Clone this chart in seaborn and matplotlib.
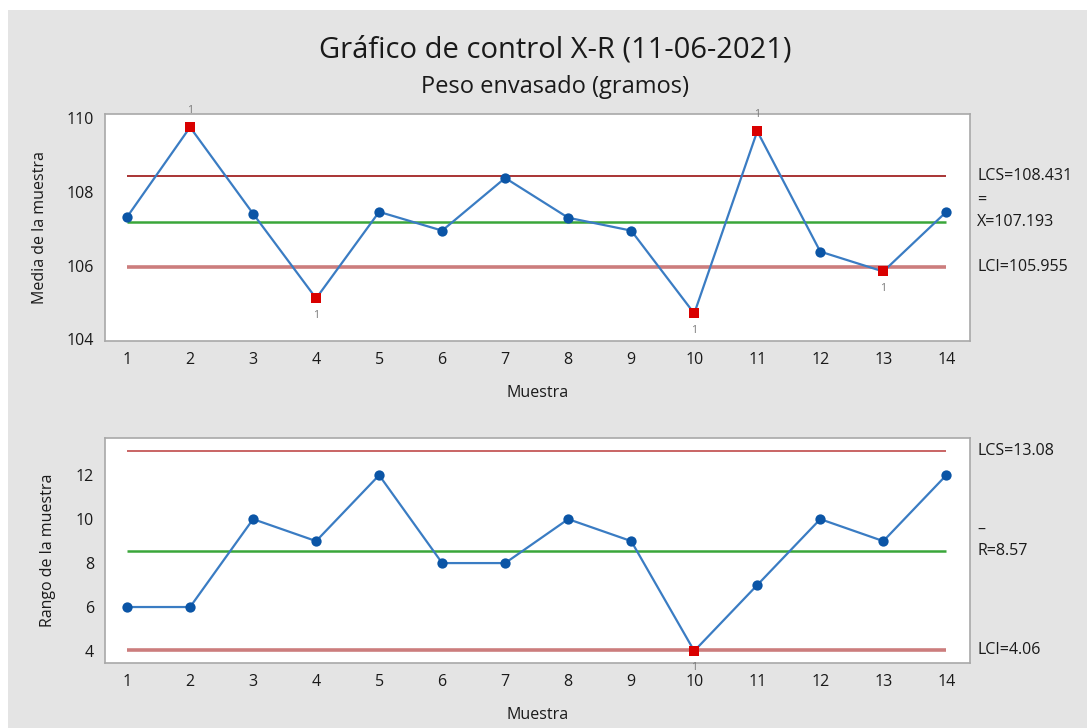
import matplotlib
matplotlib.use("Agg")
import matplotlib.pyplot as plt
import seaborn as sns
import pandas as pd
from matplotlib.patches import Rectangle
import matplotlib.transforms as mtransforms

# ---- data ----
muestra = [1, 2, 3, 4, 5, 6, 7, 8, 9, 10, 11, 12, 13, 14]
media = [107.32, 109.76, 107.41, 105.11, 107.46, 106.95, 108.38,
         107.30, 106.95, 104.70, 109.65, 106.38, 105.84, 107.46]
rango = [6, 6, 10, 9, 12, 8, 8, 10, 9, 4, 7, 10, 9, 12]

lcs_media = 108.431
centro_media = 107.193
lci_media = 105.955
lcs_rango = 13.08
centro_rango = 8.57
lci_rango = 4.06

yticks_media = [104, 106, 108, 110]
yticks_rango = [4, 6, 8, 10, 12]

titulo = "Gráfico de control X-R (11-06-2021)"
subtitulo = "Peso envasado (gramos)"

# ---- style ----
sns.set_style("white")
plt.rcParams['font.family'] = ['Open Sans', 'DejaVu Sans']

BLUE_LINE = "#3a7cc3"
BLUE_DOT = "#0b55a6"
RED_SQ = "#d90000"
GREEN = "#3aa63a"
UCL_TOP = "#a93434"
LCL_COL = "#cc7d7d"
UCL_BOT = "#c96464"
SPINE = "#a8a8a8"
TXT = "#1a1a1a"

fig = plt.figure(figsize=(10.87, 7.28), dpi=100)
fig.patch.set_facecolor("white")
fig.patches.append(Rectangle((8 / 1087, 0), 1 - 8 / 1087, (728 - 10) / 728,
                             transform=fig.transFigure, facecolor="#e4e4e4",
                             edgecolor="none", zorder=-10))

ax1 = fig.add_axes([0.0966, 0.532, 0.796, 0.311])
ax2 = fig.add_axes([0.0966, 0.0889, 0.796, 0.310])


def draw(ax, x, y, lcs, cl, lci, ucl_color, lcs_txt, cl_txt, cl_bar, lci_txt,
         ylim, yticks, ylabel, ylab_x):
    df = pd.DataFrame({"Muestra": x, "Valor": y})
    df["fuera"] = (df["Valor"] > lcs) | (df["Valor"] < lci)
    ax.set_facecolor("white")
    # limit lines
    ax.hlines(lcs, x[0], x[-1], color=ucl_color, lw=1.4, zorder=2)
    ax.hlines(lci, x[0], x[-1], color=LCL_COL, lw=2.6, zorder=2)
    ax.hlines(cl, x[0], x[-1], color=GREEN, lw=1.8, zorder=2)
    sns.lineplot(data=df, x="Muestra", y="Valor", ax=ax, color=BLUE_LINE,
                 lw=1.6, zorder=3, estimator=None)
    ok = df[~df["fuera"]]
    bad = df[df["fuera"]]
    sns.scatterplot(data=ok, x="Muestra", y="Valor", ax=ax, color=BLUE_DOT,
                    marker="o", s=55, edgecolor=BLUE_DOT, linewidth=0, zorder=4)
    sns.scatterplot(data=bad, x="Muestra", y="Valor", ax=ax, color=RED_SQ,
                    marker="s", s=55, edgecolor=RED_SQ, linewidth=0, zorder=5)
    for _, r in bad.iterrows():
        up = r["Valor"] > lcs
        ax.annotate("1", (r["Muestra"], r["Valor"]),
                    xytext=(0, 12 if up else -12), textcoords="offset points",
                    ha="center", va="center", fontsize=7.5, color="#777777",
                    annotation_clip=False, zorder=6)
    ax.set_xlim(0.65, 14.38)
    ax.set_ylim(*ylim)
    ax.set_xticks(x)
    ax.set_yticks(yticks)
    ax.tick_params(axis="both", direction="out", length=5, width=1,
                   color=SPINE, labelsize=11.5, labelcolor=TXT, pad=3)
    for s in ax.spines.values():
        s.set_color(SPINE)
        s.set_linewidth(1.2)
    ax.set_xlabel("Muestra", fontsize=11.5, color=TXT)
    ax.set_ylabel(ylabel, fontsize=11.5, color=TXT)
    ax.xaxis.set_label_coords(0.5, -0.195)
    ax.yaxis.set_label_coords(ylab_x, 0.5)
    tr = mtransforms.blended_transform_factory(ax.transAxes, ax.transData)
    kw = dict(transform=tr, ha="left", va="center", fontsize=11.5, color=TXT,
              clip_on=False)
    ax.text(1.008, lcs, lcs_txt, **kw)
    ax.text(1.008, lci, lci_txt, **kw)
    ax.text(1.008, cl, cl_txt, **kw)
    ax.annotate(cl_bar, (1.008, cl), xycoords=tr, xytext=(0, 15),
                textcoords="offset points", ha="left", va="center",
                fontsize=11.5, color=TXT, annotation_clip=False)


draw(ax1, muestra, media, lcs_media, centro_media, lci_media, UCL_TOP,
     f"LCS={lcs_media}", f"X={centro_media}", "=", f"LCI={lci_media}",
     (103.96, 110.11), yticks_media, "Media de la muestra", -0.066)
draw(ax2, muestra, rango, lcs_rango, centro_rango, lci_rango, UCL_BOT,
     f"LCS={lcs_rango}", f"R={centro_rango}", "–", f"LCI={lci_rango}",
     (3.44, 13.71), yticks_rango, "Rango de la muestra", -0.057)

fig.text(0.511, 0.932, titulo, ha="center", va="center", fontsize=21,
         color=TXT, fontweight="medium")
fig.text(0.511, 0.880, subtitulo, ha="center", va="center", fontsize=17, color=TXT)

fig.savefig("out.png", dpi=100, facecolor=fig.get_facecolor())
